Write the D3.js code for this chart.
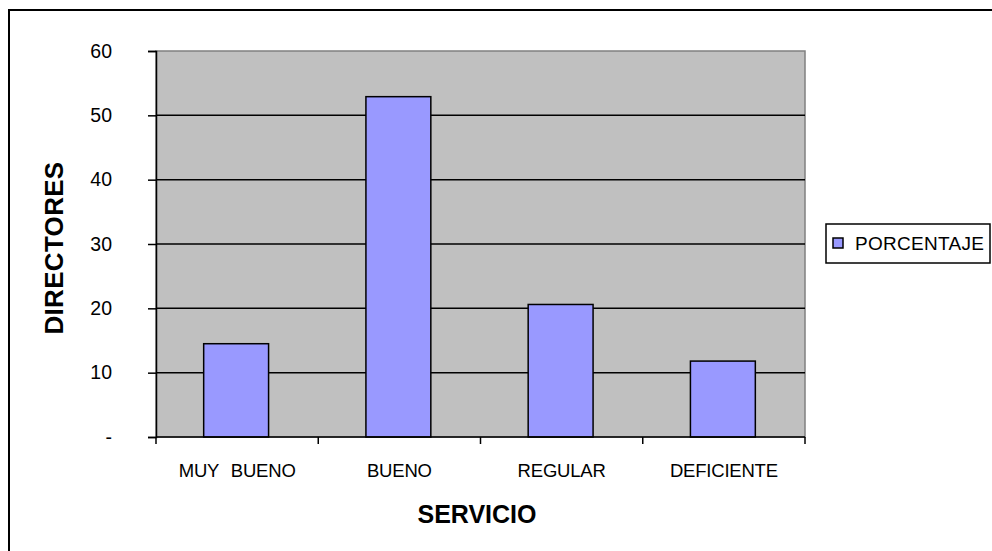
<!DOCTYPE html>
<html>
<head>
<meta charset="utf-8">
<script src="https://cdn.jsdelivr.net/npm/d3@7"></script>
<style>
  html, body { margin: 0; padding: 0; background: #fff; }
  svg { display: block; font-family: "Liberation Sans", Arial, sans-serif; }
</style>
</head>
<body>
<svg id="chart" width="992" height="551"></svg>
<script>
// Service rating survey of school directors
const categories = ["MUY BUENO", "BUENO", "REGULAR", "DEFICIENTE"];
const porcentaje = [14.5, 52.9, 20.6, 11.8];
const yTicks = [0, 10, 20, 30, 40, 50, 60];
const seriesName = "PORCENTAJE";
const xTitle = "SERVICIO";
const yTitle = "DIRECTORES";

const svg = d3.select("#chart");
const plot = { left: 156, top: 51, right: 805, bottom: 437 };

// outer chart frame
svg.append("rect")
  .attr("x", 9).attr("y", 10)
  .attr("width", 1000).attr("height", 600)
  .attr("fill", "#fff").attr("stroke", "#000").attr("stroke-width", 2);

const x = d3.scaleBand()
  .domain(categories)
  .range([plot.left, plot.right])
  .paddingInner(0).paddingOuter(0);

const y = d3.scaleLinear()
  .domain([0, 60])
  .range([plot.bottom, plot.top]);

// plot area
svg.append("rect")
  .attr("x", plot.left).attr("y", plot.top)
  .attr("width", plot.right - plot.left).attr("height", plot.bottom - plot.top)
  .attr("fill", "#c0c0c0").attr("stroke", "#808080").attr("stroke-width", 1.5);

// horizontal gridlines
svg.append("g")
  .selectAll("line")
  .data(yTicks.filter(d => d > 0 && d < 60))
  .join("line")
  .attr("x1", plot.left).attr("x2", plot.right)
  .attr("y1", d => y(d)).attr("y2", d => y(d))
  .attr("stroke", "#000").attr("stroke-width", 1.5);

// bars
const bw = x.bandwidth() * 0.4;
svg.append("g")
  .selectAll("rect")
  .data(categories)
  .join("rect")
  .attr("x", (d) => x(d) + x.bandwidth() / 2 - bw / 2 - 1)
  .attr("y", (d, i) => y(porcentaje[i]))
  .attr("width", bw)
  .attr("height", (d, i) => y(0) - y(porcentaje[i]))
  .attr("fill", "#9999ff").attr("stroke", "#000").attr("stroke-width", 1.5);

// y axis
const yAxis = d3.axisLeft(y)
  .tickValues(yTicks)
  .tickSize(8)
  .tickPadding(36)
  .tickFormat(d => d === 0 ? "-" : d);
const gy = svg.append("g")
  .attr("transform", `translate(${plot.left},0)`)
  .call(yAxis);
gy.select(".domain").attr("stroke", "#000").attr("stroke-width", 1.5);
gy.selectAll(".tick line").attr("stroke", "#000").attr("stroke-width", 1.5);
gy.selectAll(".tick text")
  .attr("font-size", 19.5).attr("fill", "#000")
  .attr("font-family", "Liberation Sans, Arial, sans-serif");

// x axis with ticks at category boundaries
const gx = svg.append("g")
  .attr("transform", `translate(0,${plot.bottom})`);
gx.append("line")
  .attr("x1", plot.left).attr("x2", plot.right)
  .attr("stroke", "#000").attr("stroke-width", 1.5);
const bounds = categories.map(d => x(d)).concat([plot.right]);
gx.selectAll("line.tk")
  .data(bounds)
  .join("line").attr("class", "tk")
  .attr("x1", d => d).attr("x2", d => d)
  .attr("y1", 0).attr("y2", 7)
  .attr("stroke", "#000").attr("stroke-width", 1.5);
gx.selectAll("text")
  .data(categories)
  .join("text")
  .attr("x", d => x(d) + x.bandwidth() / 2)
  .attr("y", 40)
  .attr("text-anchor", "middle")
  .attr("font-size", 18.5)
  .attr("word-spacing", 7)
  .attr("letter-spacing", -0.2)
  .attr("fill", "#000")
  .text(d => d);

// axis titles
svg.append("text")
  .attr("x", 477).attr("y", 523)
  .attr("text-anchor", "middle")
  .attr("font-size", 25).attr("font-weight", "bold")
  .text(xTitle);

svg.append("text")
  .attr("transform", "translate(63,248) rotate(-90)")
  .attr("text-anchor", "middle")
  .attr("font-size", 26).attr("font-weight", "bold")
  .attr("letter-spacing", 0.3)
  .text(yTitle);

// legend
const lg = svg.append("g");
lg.append("rect")
  .attr("x", 826).attr("y", 224)
  .attr("width", 164).attr("height", 39)
  .attr("fill", "#fff").attr("stroke", "#000").attr("stroke-width", 1.5);
lg.append("rect")
  .attr("x", 833).attr("y", 238)
  .attr("width", 10).attr("height", 10)
  .attr("fill", "#9999ff").attr("stroke", "#000").attr("stroke-width", 1.5);
lg.append("text")
  .attr("x", 855).attr("y", 250)
  .attr("font-size", 19).attr("fill", "#000")
  .attr("letter-spacing", 0.3)
  .text(seriesName);
</script>
</body>
</html>
